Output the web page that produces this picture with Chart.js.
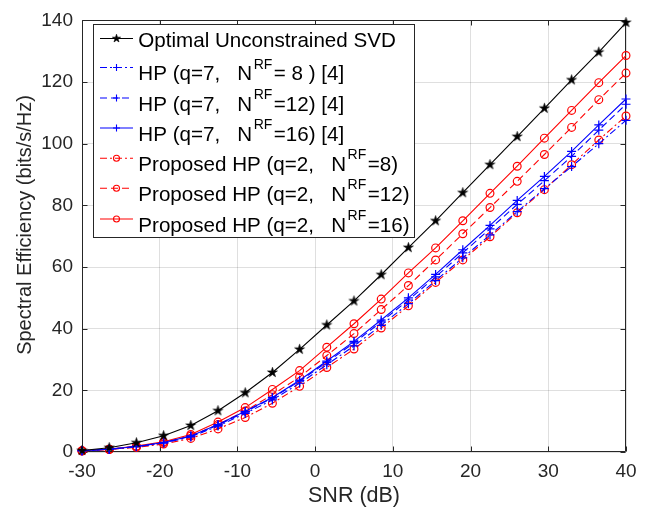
<!DOCTYPE html>
<html><head><meta charset="utf-8">
<script src="https://cdn.jsdelivr.net/npm/chart.js@4/dist/chart.umd.min.js"></script>
<style>html,body{margin:0;padding:0;background:#fff}#wrap{width:651px;height:510px;position:relative}</style>
</head><body><div id="wrap"><canvas id="c" width="651" height="510"></canvas></div>
<script>
// ---- data ----
const snr = [-30,-26.5,-23,-19.5,-16,-12.5,-9,-5.5,-2,1.5,5,8.5,12,15.5,19,22.5,26,29.5,33,36.5,40];
const xTicks = [-30,-20,-10,0,10,20,30,40];
const yTicks = [0,20,40,60,80,100,120,140];
const svd    = [0.5,1.4,3.0,5.3,8.6,13.4,19.2,25.8,33.3,41.2,49.0,57.5,66.3,75.0,84.1,93.2,102.3,111.5,120.7,129.7,139.3];
const hp8    = [0.4,0.9,1.7,2.9,4.9,8.4,12.5,16.9,22.3,28.3,34.4,41.1,48.1,55.6,63.0,70.4,78.0,85.4,92.6,100.0,107.6];
const hp12   = [0.4,0.9,1.8,3.0,5.1,8.7,13.0,17.5,23.0,29.1,35.4,42.2,49.3,56.8,64.6,72.4,80.3,88.0,95.9,104.4,112.8];
const hp16   = [0.4,0.9,1.8,3.1,5.2,8.9,13.2,17.7,23.3,29.5,35.9,42.8,50.0,57.6,65.6,73.5,81.6,89.4,97.5,106.1,114.5];
const prop8  = [0.3,0.8,1.5,2.6,4.4,7.5,11.2,15.8,21.3,27.4,33.4,40.2,47.4,55.0,62.3,69.8,77.6,85.1,93.2,101.2,109.0];
const prop12 = [0.4,0.9,1.8,3.1,5.2,8.9,13.3,18.6,24.3,31.3,38.4,46.2,54.0,62.3,70.8,79.3,87.8,96.5,105.3,114.3,122.9];
const prop16 = [0.4,0.9,1.9,3.3,5.7,9.7,14.4,20.3,26.4,34.0,41.6,49.6,58.1,66.2,75.0,83.9,92.7,101.8,110.8,119.8,128.6];
const legendLabels = [
  ['Optimal Unconstrained SVD','',''],
  ['HP (q=7,   N','RF','= 8 ) [4]'],
  ['HP (q=7,   N','RF','=12) [4]'],
  ['HP (q=7,   N','RF','=16) [4]'],
  ['Proposed HP (q=2,   N','RF','=8)'],
  ['Proposed HP (q=2,   N','RF','=12)'],
  ['Proposed HP (q=2,   N','RF','=16)']
];
const xTitle = 'SNR (dB)';
const yTitle = 'Spectral Efficiency (bits/s/Hz)';

// ---- styles ----
const FONT = '"Liberation Sans", Arial, Helvetica, sans-serif';
const AX = '#262626';
const DASH = [7,4];
const DASHDOT = [7,3,2,3];

function makeStar(r){
  const s = Math.ceil(r*2+2);
  const c = document.createElement('canvas'); c.width = s; c.height = s;
  const g = c.getContext('2d'); g.translate(s/2, s/2);
  g.beginPath();
  for (let i=0;i<10;i++){ const rr = i%2 ? r*0.382 : r; const a = -Math.PI/2 + i*Math.PI/5; g.lineTo(rr*Math.cos(a), rr*Math.sin(a)); }
  g.closePath(); g.fillStyle = '#000'; g.fill(); g.strokeStyle='#000'; g.lineWidth=0.6; g.stroke();
  return c;
}
const starBig = makeStar(5.2), starSmall = makeStar(4.3);

function toXY(arr){ return snr.map((x,i)=>({x:x, y:arr[i]})); }
function ds(arr, color, dash, style, radius, legendStyle, legendRadius){
  return {data: toXY(arr), borderColor: color, backgroundColor: color, borderWidth: 1.1, borderDash: dash,
    pointStyle: style, pointRadius: radius, pointBorderColor: color, pointBackgroundColor: style==='circle' ? 'rgba(0,0,0,0)' : color,
    pointBorderWidth: 1.2, tension: 0, clip: false, legendStyle: legendStyle, legendRadius: legendRadius};
}
const datasets = [
  ds(svd, '#000000', [], starBig, 5, starSmall, 4),
  ds(hp8, '#0000ff', DASHDOT, 'cross', 4.5, 'cross', 3.5),
  ds(hp12, '#0000ff', DASH, 'cross', 4.5, 'cross', 3.5),
  ds(hp16, '#0000ff', [], 'cross', 4.5, 'cross', 3.5),
  ds(prop8, '#ff0000', DASHDOT, 'circle', 3.9, 'circle', 3),
  ds(prop12, '#ff0000', DASH, 'circle', 3.9, 'circle', 3),
  ds(prop16, '#ff0000', [], 'circle', 3.9, 'circle', 3)
];

const frame = {
  id: 'frame',
  beforeDatasetsDraw(chart){
    const {ctx, chartArea: a, scales: {x, y}} = chart;
    ctx.save();
    ctx.strokeStyle = AX; ctx.lineWidth = 1;
    const L = Math.round(a.left)+0.5, R = Math.round(a.right)-0.5, T = Math.round(a.top)+0.5, B = Math.round(a.bottom)-0.5;
    ctx.beginPath();
    ctx.rect(L, T, R-L, B-T);
    xTicks.forEach(v=>{ const px = Math.round(x.getPixelForValue(v))+0.5; ctx.moveTo(px,B); ctx.lineTo(px,B-5); ctx.moveTo(px,T); ctx.lineTo(px,T+5); });
    yTicks.forEach(v=>{ const py = Math.round(y.getPixelForValue(v))+0.5; ctx.moveTo(L,py); ctx.lineTo(L+5,py); ctx.moveTo(R,py); ctx.lineTo(R-5,py); });
    ctx.stroke();
    // axis titles
    ctx.fillStyle = AX;
    ctx.font = '21.5px ' + FONT; ctx.textAlign = 'center'; ctx.textBaseline = 'alphabetic';
    ctx.fillText(xTitle, (a.left+a.right)/2, 501.5);
    ctx.save(); ctx.translate(31, 225); ctx.rotate(-Math.PI/2);
    ctx.font = '20px ' + FONT; ctx.fillText(yTitle, 0, 0); ctx.restore();
    ctx.restore();
  }
};

const legend = {
  id: 'mlegend',
  afterDatasetsDraw(chart){
    const ctx = chart.ctx;
    const bx = 93.5, by = 24.5, bw = 321, bh = 213;
    const rows = [38.5, 67.5, 98, 128, 158.3, 188.3, 219];
    ctx.save();
    ctx.fillStyle = '#fff'; ctx.fillRect(bx, by, bw, bh);
    ctx.strokeStyle = AX; ctx.lineWidth = 1; ctx.strokeRect(bx, by, bw, bh);
    chart.data.datasets.forEach((d, i)=>{
      const yl = rows[i];
      ctx.save();
      ctx.strokeStyle = d.borderColor; ctx.lineWidth = d.borderWidth; ctx.setLineDash(d.borderDash);
      ctx.beginPath(); ctx.moveTo(100, yl); ctx.lineTo(133, yl); ctx.stroke();
      ctx.setLineDash([]);
      ctx.fillStyle = d.pointBackgroundColor; ctx.strokeStyle = d.borderColor;
      Chart.helpers.drawPoint(ctx, {pointStyle: d.legendStyle, radius: d.legendRadius, rotation: 0, borderWidth: 1.1}, 116.5, yl);
      ctx.restore();
      const parts = legendLabels[i];
      ctx.fillStyle = '#000'; ctx.textAlign = 'left'; ctx.textBaseline = 'alphabetic';
      let tx = 138.3;
      const hasSup = parts[1] !== '';
      const base = hasSup ? yl + 12.5 : yl + 8;
      ctx.font = '20.6px ' + FONT;
      ctx.fillText(parts[0], tx, base); tx += ctx.measureText(parts[0]).width + 1.5;
      if (hasSup){
        ctx.font = '14px ' + FONT;
        ctx.fillText(parts[1], tx, yl + 1); tx += ctx.measureText(parts[1]).width + 1.5;
        ctx.font = '20.6px ' + FONT;
        ctx.fillText(parts[2], tx, base);
      }
    });
    ctx.restore();
  }
};

new Chart(document.getElementById('c'), {
  type: 'line',
  data: {datasets: datasets},
  options: {
    responsive: false, animation: false, devicePixelRatio: 1,
    layout: {padding: {top: 13, right: 25, left: 0, bottom: 0}},
    plugins: {legend: {display: false}, tooltip: {enabled: false}},
    elements: {line: {tension: 0}},
    scales: {
      x: {type: 'linear', min: -30, max: 40,
        afterBuildTicks: s => { s.ticks = xTicks.map(v=>({value: v})); },
        afterFit: s => { s.height = 58; },
        grid: {color: 'rgba(38,38,38,0.15)', drawTicks: false, lineWidth: 1},
        border: {display: false},
        ticks: {color: AX, font: {family: FONT, size: 19}, padding: 8, maxRotation: 0, autoSkip: false}
      },
      y: {type: 'linear', min: 0, max: 140,
        afterBuildTicks: s => { s.ticks = yTicks.map(v=>({value: v})); },
        afterFit: s => { s.width = 82; },
        grid: {color: 'rgba(38,38,38,0.15)', drawTicks: false, lineWidth: 1},
        border: {display: false},
        ticks: {color: AX, font: {family: FONT, size: 19}, padding: 9}
      }
    }
  },
  plugins: [frame, legend]
});
</script></body></html>
